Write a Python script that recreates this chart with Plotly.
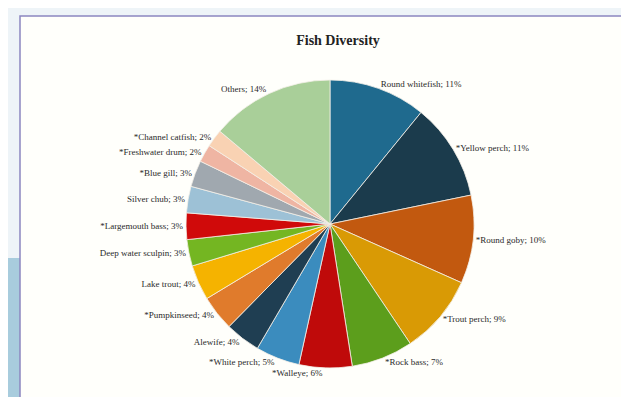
import plotly.graph_objects as go

species = ["Round whitefish", "*Yellow perch", "*Round goby", "*Trout perch", "*Rock bass",
           "*Walleye", "*White perch", "Alewife", "*Pumpkinseed", "Lake trout",
           "Deep water sculpin", "*Largemouth bass", "Silver chub", "*Blue gill",
           "*Freshwater drum", "*Channel catfish", "Others"]
shares = [11, 11, 10, 9, 7, 6, 5, 4, 4, 4, 3, 3, 3, 3, 2, 2, 14]
slice_colors = ["#1F6A8E", "#1B3B4C", "#C2590F", "#D99A05", "#5C9E1C",
                "#BF0A0A", "#3B8CBE", "#1F3E52", "#E07B2C", "#F5B300",
                "#74B622", "#D00A0A", "#9DC1D6", "#A0A8AF", "#EFB5A3",
                "#F9D2B3", "#A9CF99"]

labels_text = [f"{s}; {v}%" for s, v in zip(species, shares)]

W, H = 629, 397
T, B = 72, 37
PH = H - T - B


def py(p):
    # pixel row from top -> paper y (plot area relative)
    return (H - B - p) / PH


CX = 322
fig = go.Figure()
fig.add_trace(go.Pie(
    labels=species, values=shares, text=labels_text,
    textinfo="text", textposition="outside",
    sort=False, direction="clockwise", rotation=0,
    marker=dict(colors=slice_colors, line=dict(color="#F4F0E8", width=0.8)),
    textfont=dict(family="Liberation Serif", size=9, color="#2A2A2A"),
    outsidetextfont=dict(family="Liberation Serif", size=9, color="#2A2A2A"),
    domain=dict(x=[(CX - 150) / W, (CX + 150) / W], y=[0, 1]),
    showlegend=False, hoverinfo="label+percent",
))

fig.update_layout(
    width=W, height=H,
    margin=dict(l=0, r=0, t=T, b=B),
    paper_bgcolor="#EEF4F8",
    title=dict(text="<b>Fish Diversity</b>", x=330 / W, xanchor="center", y=1 - 32 / H, yanchor="middle",
               font=dict(family="Liberation Serif", size=14, color="#222222")),
    shapes=[
        dict(type="rect", xref="paper", yref="paper", layer="below",
             x0=0, x1=12 / W, y0=py(H + 5), y1=py(250), line=dict(width=0), fillcolor="#A8CCDD"),
        dict(type="rect", xref="paper", yref="paper", layer="below",
             x0=12 / W, x1=620 / W, y0=py(390), y1=py(8),
             line=dict(color="#8C86C0", width=1.5), fillcolor="#FFFFFB"),
    ],
)

fig.write_html("out.html")
